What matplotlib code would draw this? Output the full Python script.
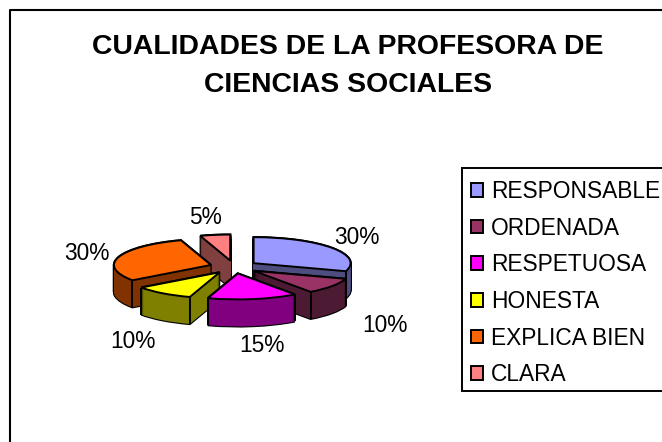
import matplotlib
matplotlib.use("Agg")
import numpy as np
import matplotlib.pyplot as plt
from matplotlib.lines import Line2D
from matplotlib.patches import Rectangle
from matplotlib.transforms import Affine2D

plt.rcParams['font.family'] = ['Liberation Sans', 'DejaVu Sans']

title = "CUALIDADES DE LA PROFESORA DE\nCIENCIAS SOCIALES"
categories = ["RESPONSABLE", "ORDENADA", "RESPETUOSA", "HONESTA", "EXPLICA BIEN", "CLARA"]
values = [30, 10, 15, 10, 30, 5]
colors = ["#9999FF", "#993366", "#FF00FF", "#FFFF00", "#FF6600", "#FF8080"]
side_colors = ["#4D4D80", "#4D1A33", "#800080", "#808000", "#803300", "#804040"]

W, H = 662, 442
draw_order = [5, 0, 4, 1, 3, 2]      # painter's order, back to front
RX, RY, DEPTH = 97.0, 26.0, 27.0     # pixels
CX, CY = 234.0, 267.0                # pie centre, pixels from the top
EXPLODE = 0.25
label_xy = [(357, 237.5), (385, 326), (262, 346), (133, 341), (87, 254), (205, 217)]

fig = plt.figure(figsize=(W / 100, H / 100), dpi=100, facecolor="white")
px = Affine2D().scale(1, -1).translate(0, H)

# chart frame: only the left and top sides fall inside the picture
fig.add_artist(Line2D([10, 10, 670], [450, 10, 10], transform=px, color="black", linewidth=1.5))

# pie axes: one data unit = RX px across and RY px down
left, right, top, bottom = CX - 200, CX + 200, CY - 100, CY + 140
ax = fig.add_axes([left / W, 1 - bottom / H, (right - left) / W, (bottom - top) / H])


def pie_layer(dz, face, edge=None, lw=0.0):
    wedges, _ = ax.pie(values, colors=face, startangle=90, counterclock=False,
                       explode=[EXPLODE] * len(values), center=(0, -dz),
                       wedgeprops=dict(edgecolor=edge if edge else "none", linewidth=lw))
    return wedges


depth_units = DEPTH / RY
steps = np.linspace(depth_units, 0, int(DEPTH) + 1)
for rank, idx in enumerate(draw_order):
    base = rank * 10
    for face, edge, lw, z in [(["black"] * 6, "black", 1.6, 0.0), (side_colors, "none", 0.0, 1.0)]:
        for dz in steps:
            w = pie_layer(dz, face, edge, lw)
            for j, wedge in enumerate(w):
                if j == idx:
                    wedge.set_zorder(base + z)
                else:
                    wedge.remove()

top_wedges = pie_layer(0.0, colors, "black", 1.4)
for rank, idx in enumerate(draw_order):
    top_wedges[idx].set_zorder(rank * 10 + 3)
    wedge = top_wedges[idx]
    cx, cy = wedge.center
    for th in (wedge.theta1, wedge.theta2):
        s = np.sin(np.radians(th))
        if s < -0.05:  # corner on the near side of the pie
            xc = cx + wedge.r * np.cos(np.radians(th))
            yc = cy + wedge.r * s
            ax.plot([xc, xc], [yc, yc - depth_units], color="black", lw=1.4,
                    zorder=rank * 10 + 2, solid_capstyle="butt")

ax.set_aspect("auto")
ax.set_xlim((left - CX) / RX, (right - CX) / RX)
ax.set_ylim((CY - bottom) / RY, (CY - top) / RY)
ax.axis("off")

# data labels
for v, (x, y) in zip(values, label_xy):
    fig.text(x / W, 1 - y / H, f"{v}%", ha="center", va="center", fontsize=16.4, color="black")

# title
fig.text(348 / W, 1 - 66 / H, title, ha="center", va="center", fontsize=20.4,
         fontweight="bold", linespacing=1.58)

# legend: box drawn on its own, the rows sit slightly low in it
fig.add_artist(Rectangle((462, 168), 240, 223, transform=px, facecolor="white",
                         edgecolor="black", linewidth=1.4))
leg = fig.legend(top_wedges, categories, loc="lower left",
                 bbox_to_anchor=(462 / W, 1 - 395 / H), bbox_transform=fig.transFigure,
                 fontsize=16.4, frameon=False, borderaxespad=0, borderpad=0.38,
                 labelspacing=0.60, handlelength=0.55, handleheight=0.55, handletextpad=0.34)

fig.savefig("out.png", dpi=100)
